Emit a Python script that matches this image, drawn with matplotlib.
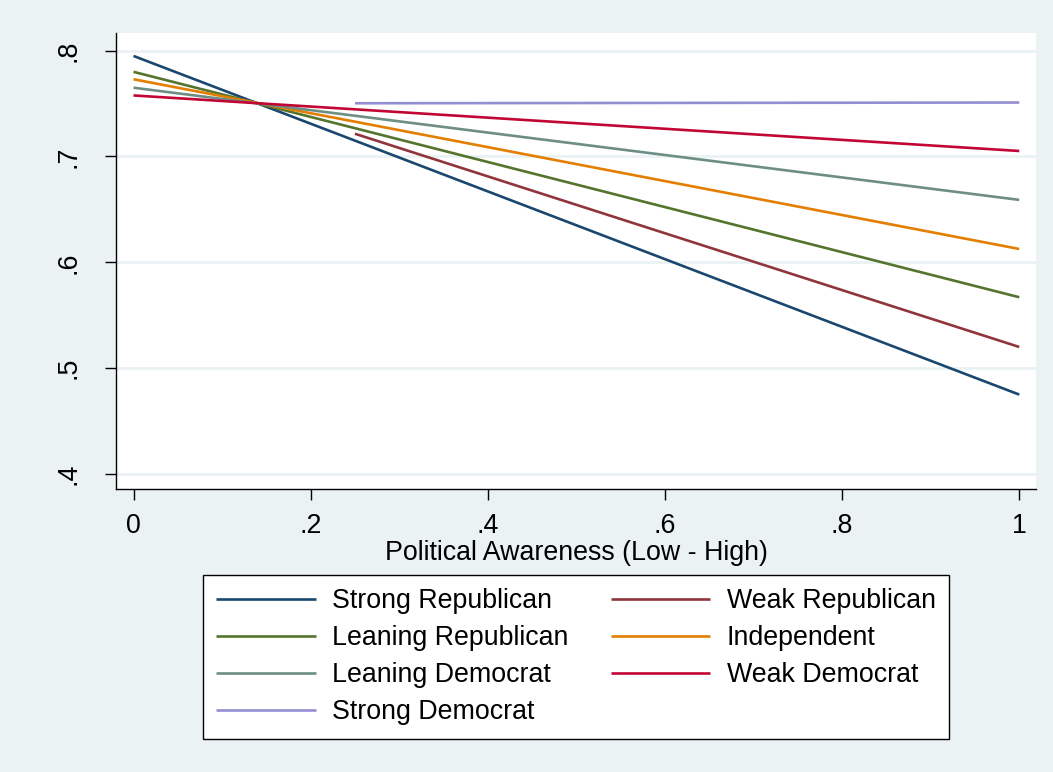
import matplotlib
matplotlib.use("Agg")
import matplotlib.pyplot as plt
import numpy as np

plt.rcParams['font.family'] = ['Liberation Sans', 'DejaVu Sans']

# Data
series_names = ["Strong Republican", "Weak Republican", "Leaning Republican",
                "Independent", "Leaning Democrat", "Weak Democrat", "Strong Democrat"]
x_start = [0.0, 0.25, 0.0, 0.0, 0.0, 0.0, 0.25]
x_end = [1.0, 1.0, 1.0, 1.0, 1.0, 1.0, 1.0]
y_start = [0.795, 0.7215, 0.780, 0.773, 0.765, 0.7577, 0.7503]
y_end = [0.475, 0.520, 0.567, 0.6126, 0.659, 0.7052, 0.751]
colors = ["#1a476f", "#90353b", "#55752f", "#e37e00", "#6e8e84", "#c10534", "#938dd2"]

x_ticks = [0, 0.2, 0.4, 0.6, 0.8, 1.0]
x_ticklabels = ["0", ".2", ".4", ".6", ".8", "1"]
y_ticks = [0.4, 0.5, 0.6, 0.7, 0.8]
y_ticklabels = [".4", ".5", ".6", ".7", ".8"]
x_label = "Political Awareness (Low - High)"

FS = 19.3
bg = "#EAF2F3"
fig = plt.figure(figsize=(10.53, 7.72), dpi=100, facecolor=bg)
ax = fig.add_axes([116/1053, 1-489/772, (1036-116)/1053, (489-33)/772])
ax.set_facecolor("white")

handles = {}
for name, xs, xe, ys, ye, c in zip(series_names, x_start, x_end, y_start, y_end, colors):
    h, = ax.plot([xs, xe], [ys, ye], color=c, lw=1.9, label=name, solid_capstyle='butt')
    handles[name] = h

ax.set_xlim(-0.0198, 1.0189)
ax.set_ylim(0.3858, 0.8167)
ax.set_xticks(x_ticks)
ax.set_xticklabels(x_ticklabels)
ax.set_yticks(y_ticks)
ax.set_yticklabels(y_ticklabels, rotation=90, va='center')
ax.grid(axis='y', color=bg, lw=2.0)
ax.set_axisbelow(True)
for s in ['top', 'right']:
    ax.spines[s].set_visible(False)
for s in ['left', 'bottom']:
    ax.spines[s].set_linewidth(1.0)
    ax.spines[s].set_color('black')
ax.tick_params(axis='both', length=8, width=1.0, labelsize=FS, colors='black')
ax.tick_params(axis='y', pad=17)
ax.tick_params(axis='x', pad=9)
ax.set_xlabel(x_label, fontsize=FS, labelpad=1)

order = ["Strong Republican", "Leaning Republican", "Leaning Democrat", "Strong Democrat",
         "Weak Republican", "Independent", "Weak Democrat"]
leg = fig.legend([handles[n] for n in order], order, ncol=2,
                 loc='upper center', bbox_to_anchor=(576/1053, 1-575/772),
                 fontsize=FS, frameon=True, fancybox=False, edgecolor='black',
                 facecolor='white', framealpha=1, handlelength=3.7, handletextpad=0.63,
                 columnspacing=1.56, labelspacing=0.41, borderpad=0.5, borderaxespad=0)
leg.get_frame().set_linewidth(1.0)

fig.savefig("out.png", dpi=100, facecolor=bg)
